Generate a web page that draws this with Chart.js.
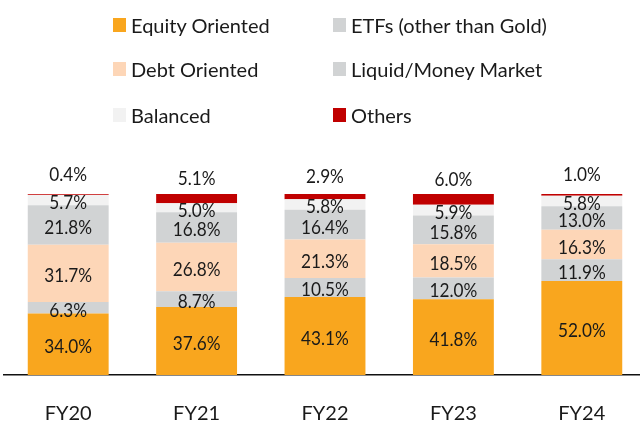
<!DOCTYPE html>
<html>
<head>
<meta charset="utf-8">
<script src="https://cdn.jsdelivr.net/npm/chart.js@4.4.1/dist/chart.umd.min.js"></script>
<style>
  html, body { margin: 0; padding: 0; overflow: hidden; background: #fff; }
  #wrap { position: relative; width: 650px; height: 453px; }
  #legend { position: absolute; left: 0; top: 0; width: 640px; height: 140px;
            font-family: Lato, sans-serif; font-size: 20px; color: #1a1a1a; }
  .item { position: absolute; display: flex; align-items: center; height: 24px; white-space: nowrap; }
  .box { width: 13px; height: 14px; margin-right: 5px; }
</style>
</head>
<body>
<div id="wrap">
  <canvas id="grafica" width="650" height="453"></canvas>
  <div id="legend"></div>
</div>
<script>
// years on the x axis
const categories = ['FY20', 'FY21', 'FY22', 'FY23', 'FY24'];

// share of AUM by scheme type, in %
const equityOriented = [34.0, 37.6, 43.1, 41.8, 52.0];
const etfs = [6.3, 8.7, 10.5, 12.0, 11.9];
const debtOriented = [31.7, 26.8, 21.3, 18.5, 16.3];
const liquidMoney = [21.8, 16.8, 16.4, 15.8, 13.0];
const balanced = [5.7, 5.0, 5.8, 5.9, 5.8];
const others = [0.4, 5.1, 2.9, 6.0, 1.0];

const seriesNames = ['Equity Oriented', 'ETFs (other than Gold)', 'Debt Oriented',
                     'Liquid/Money Market', 'Balanced', 'Others'];
const seriesValues = [equityOriented, etfs, debtOriented, liquidMoney, balanced, others];
const seriesColors = ['#F9A61E', '#D1D3D4', '#FDD6B7', '#D1D3D4', '#F2F2F2', '#C00000'];

// value labels: centred in each segment, the top one sits above the bar
const valueLabels = {
    id: 'valueLabels',
    afterDatasetsDraw(chart) {
        const ctx = chart.ctx;
        ctx.save();
        ctx.font = '20px Lato';
        ctx.fillStyle = '#1a1a1a';
        ctx.textAlign = 'center';
        ctx.textBaseline = 'middle';
        const last = chart.data.datasets.length - 1;
        chart.data.datasets.forEach((ds, i) => {
            const meta = chart.getDatasetMeta(i);
            meta.data.forEach((bar, j) => {
                const mid = (bar.y + bar.base) / 2;
                const y = i === last ? mid - 20 : mid + 2.5;
                ctx.save();
                ctx.translate(bar.x, y);
                ctx.scale(0.86, 1);
                ctx.fillText(ds.data[j].toFixed(1) + '%', 0, 0);
                ctx.restore();
            });
        });
        ctx.restore();
    }
};

function main() {
    const ctx = document.getElementById('grafica').getContext('2d');

    const datasets = seriesNames.map((name, i) => ({
        label: name,
        data: seriesValues[i],
        backgroundColor: seriesColors[i],
        borderWidth: 0,
        barPercentage: 0.63,
        categoryPercentage: 1.0
    }));

    const chart = new Chart(ctx, {
        type: 'bar',
        data: { labels: categories, datasets: datasets },
        options: {
            responsive: false,
            animation: false,
            layout: { padding: { top: 194, left: 4, right: 4, bottom: 0 } },
            plugins: {
                legend: { display: false },
                tooltip: { enabled: false }
            },
            scales: {
                x: {
                    stacked: true,
                    grid: { display: false, drawTicks: false },
                    border: { display: true, color: '#111', width: 1.5 },
                    ticks: {
                        color: '#1a1a1a',
                        padding: 27,
                        font: { family: 'Lato', size: 20 }
                    }
                },
                y: {
                    stacked: true,
                    display: false,
                    min: 0,
                    max: 100
                }
            }
        },
        plugins: [valueLabels]
    });

    // two-column legend above the plot
    const legend = document.getElementById('legend');
    const colLeft = [113, 333];
    const rowMid = [25, 69, 115];
    chart.data.datasets.forEach((ds, i) => {
        const item = document.createElement('div');
        item.className = 'item';
        item.style.left = colLeft[i % 2] + 'px';
        item.style.top = (rowMid[Math.floor(i / 2)] - 12) + 'px';
        const box = document.createElement('span');
        box.className = 'box';
        box.style.background = ds.backgroundColor;
        const txt = document.createElement('span');
        txt.textContent = ds.label;
        item.appendChild(box);
        item.appendChild(txt);
        legend.appendChild(item);
    });
}

document.addEventListener('DOMContentLoaded', main);
</script>
</body>
</html>
